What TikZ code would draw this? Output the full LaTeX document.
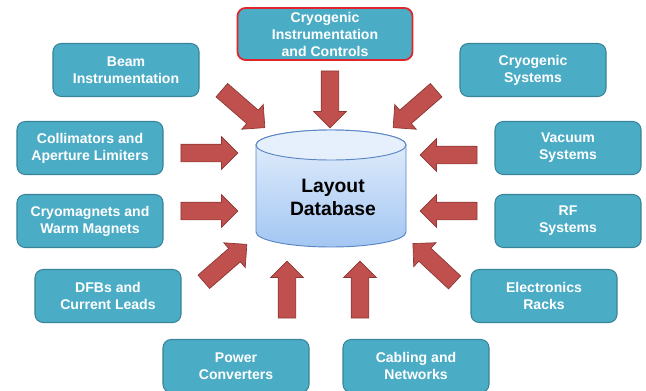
\documentclass[tikz,border=0pt]{standalone}
\usepackage{fontspec}
\setmainfont{Liberation Sans}
\usetikzlibrary{shapes.arrows}

\definecolor{boxfill}{HTML}{4BACC6}
\definecolor{boxedge}{HTML}{3A8499}
\definecolor{ctrlred}{HTML}{E0262B}
\definecolor{arrowred}{HTML}{C0504D}
\definecolor{arrowedge}{HTML}{8C3836}
\definecolor{dbtop}{HTML}{E6F0FC}
\definecolor{dbbot}{HTML}{A3C6F2}
\definecolor{dbedge}{HTML}{5B86C4}

\tikzset{
  sysbox/.style={draw=boxedge, fill=boxfill, line width=0.9pt, rounded corners=7pt,
    minimum width=4.38cm, minimum height=1.59cm, text=white, align=center,
    font=\bfseries\fontsize{12}{14.5}\selectfont},
  blockarrow/.style={single arrow, draw=arrowedge, fill=arrowred, line width=0.6pt,
    minimum height=1.71cm, inner xsep=0pt, inner ysep=0.255cm,
    single arrow head extend=0.225cm}
}

\begin{document}
\begin{tikzpicture}[x=0.03cm, y=-0.03cm]
\useasboundingbox (0,0) rectangle (646,390);

% database
\shade[top color=dbtop, bottom color=dbbot, draw=dbedge, line width=0.8pt]
  (256,145) -- (256,232) arc[start angle=180, end angle=0, x radius=75, y radius=15]
  -- (406,145) arc[start angle=0, end angle=-180, x radius=75, y radius=15] -- cycle;
\draw[draw=dbedge, fill=dbtop, line width=0.8pt] (331,145) ellipse[x radius=75, y radius=15];
\node[font=\bfseries\fontsize{16.5}{19.6}\selectfont, align=center] (db) at (333,197) {Layout\\Database};

% systems
\node[sysbox, draw=ctrlred, line width=1.5pt, minimum width=5.25cm, minimum height=1.56cm] (cic) at (325,34) {Cryogenic\\Instrumentation\\and Controls};
\node[sysbox] (beam) at (126,70) {Beam\\Instrumentation};
\node[sysbox] (cryo) at (533,70) {Cryogenic\\Systems};
\node[sysbox] (coll) at (90,148) {Collimators and\\Aperture Limiters};
\node[sysbox] (vac) at (568,148) {Vacuum\\Systems};
\node[sysbox] (mag) at (90,221) {Cryomagnets and\\Warm Magnets};
\node[sysbox] (rf) at (568,221) {RF\\Systems};
\node[sysbox] (dfb) at (108,296) {DFBs and\\Current Leads};
\node[sysbox] (racks) at (544,296) {Electronics\\Racks};
\node[sysbox] (power) at (236,366) {Power\\Converters};
\node[sysbox] (cabling) at (416,366) {Cabling and\\Networks};

% arrows
\node[blockarrow, rotate=-41] (aBeam) at (240,106) {};
\node[blockarrow, rotate=-90] (aCic) at (330,95) {};
\node[blockarrow, rotate=-139] (aCryo) at (418,106) {};
\node[blockarrow] (aColl) at (205,153) {};
\node[blockarrow] (aMag) at (205,211) {};
\node[blockarrow, rotate=180] (aVac) at (453,155) {};
\node[blockarrow, rotate=180] (aRf) at (453,211) {};
\node[blockarrow, rotate=41] (aDfb) at (222,266) {};
\node[blockarrow, rotate=90] (aPower) at (287,294) {};
\node[blockarrow, rotate=90] (aCabling) at (360,294) {};
\node[blockarrow, rotate=137] (aRacks) at (437,266) {};
\end{tikzpicture}
\end{document}
